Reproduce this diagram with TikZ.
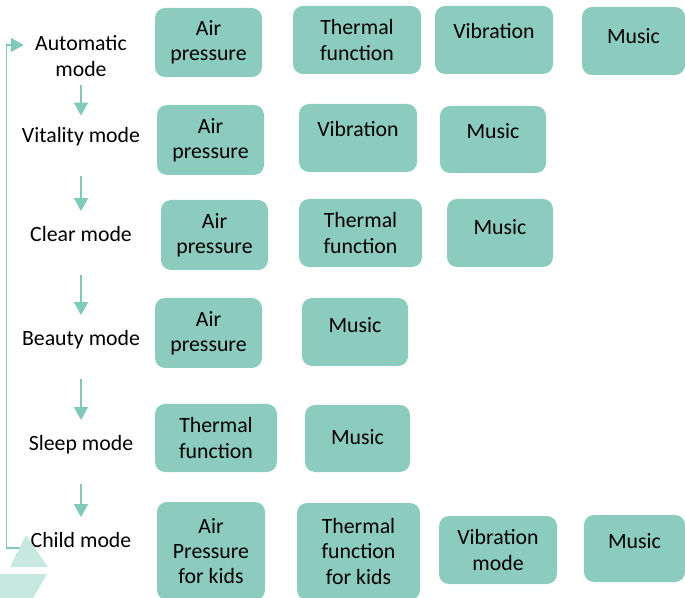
\documentclass[tikz,border=0pt]{standalone}
\usepackage{fontspec}
\setmainfont{Carlito}
\usetikzlibrary{arrows.meta}
\definecolor{boxgreen}{RGB}{139,204,190}
\definecolor{arrowgreen}{RGB}{128,202,186}
\definecolor{lightgreen}{RGB}{198,232,223}
\tikzset{
  func/.style={fill=boxgreen, rounded corners=5pt, align=center, inner sep=0pt,
    font=\fontsize{10.9}{12.6}\selectfont},
  lift/.style={text height=7pt, text depth=#1},
  modename/.style={align=center, inner sep=0pt, font=\fontsize{10.9}{12.6}\selectfont},
  single/.style={text height=7.5pt, text depth=2pt},
  flow/.style={arrowgreen, line width=0.75pt, -{Triangle[width=7pt,length=6.5pt]}}
}
\begin{document}
\begin{tikzpicture}[x=0.5pt, y=-0.5pt]
\useasboundingbox (0,0) rectangle (685,598);

% modes
\node [modename] (auto) at (81,56) {Automatic\\mode};
\node [modename, single] (vital) at (81,137) {Vitality mode};
\node [modename, single] (clear) at (81,236) {Clear mode};
\node [modename, single] (beauty) at (81,340) {Beauty mode};
\node [modename, single] (sleep) at (81,445) {Sleep mode};
\node [modename, single] (child) at (81,542) {Child mode};

% arrows between modes
\draw [flow, shorten <=4pt, shorten >=5.75pt] (auto.south) -- (vital.north);
\draw [flow, shorten <=14.5pt, shorten >=7.5pt] (vital.south) -- (clear.north);
\draw [flow, shorten <=14.5pt, shorten >=7.5pt] (clear.south) -- (beauty.north);
\draw [flow, shorten <=14.5pt, shorten >=7.5pt] (beauty.south) -- (sleep.north);
\draw [flow, shorten <=14.5pt, shorten >=7.5pt] (sleep.south) -- (child.north);
\draw [flow, shorten >=5.5pt] ([yshift=-3pt]child.west) -- ++(-12pt,0)
  |- ([yshift=5.5pt]auto.west);

% decoration
\fill [lightgreen] (26,535) -- (48,567) -- (10,567) -- cycle;
\fill [lightgreen] (0,574) -- (47,574) -- (33,598) -- (0,598) -- cycle;

% automatic mode
\node [func, minimum width=53.5pt, minimum height=34.5pt] (autoair) at (208.5,42.5) {Air\\pressure};
\node [func, minimum width=64pt, minimum height=34pt] (autotherm) at (357,40) {Thermal\\function};
\node [func, lift=8pt, minimum width=59pt, minimum height=34pt] (autovib) at (494,40) {Vibration};
\node [func, lift=4pt, minimum width=51.5pt, minimum height=34pt] (automus) at (633.5,41) {Music};

% vitality mode
\node [func, minimum width=53.5pt, minimum height=35pt] (vitalair) at (210.5,140) {Air\\pressure};
\node [func, lift=8pt, minimum width=59pt, minimum height=34pt] (vitalvib) at (358,138) {Vibration};
\node [func, lift=8pt, minimum width=53pt, minimum height=33.5pt] (vitalmus) at (493,139.5) {Music};

% clear mode
\node [func, minimum width=53.5pt, minimum height=35pt] (clearair) at (214.5,235) {Air\\pressure};
\node [func, minimum width=61.5pt, minimum height=34pt] (cleartherm) at (360.5,233) {Thermal\\function};
\node [func, lift=5pt, minimum width=53pt, minimum height=34pt] (clearmus) at (500,233) {Music};

% beauty mode
\node [func, minimum width=53.5pt, minimum height=35pt] (beautyair) at (208.5,333) {Air\\pressure};
\node [func, lift=6pt, minimum width=53pt, minimum height=34pt] (beautymus) at (355,332) {Music};

% sleep mode
\node [func, minimum width=61pt, minimum height=34pt] (sleeptherm) at (216,438) {Thermal\\function};
\node [func, lift=1pt, minimum width=52.5pt, minimum height=33.5pt] (sleepmus) at (357.5,438.5) {Music};

% child mode
\node [func, minimum width=54pt, minimum height=49pt] (childair) at (211,551) {Air\\Pressure\\for kids};
\node [func, minimum width=61.5pt, minimum height=48.5pt] (childtherm) at (358.5,551.5) {Thermal\\function\\for kids};
\node [func, minimum width=59pt, minimum height=34pt] (childvib) at (498,550) {Vibration\\mode};
\node [func, lift=7pt, minimum width=50.5pt, minimum height=33.5pt] (childmus) at (634.5,548.5) {Music};
\end{tikzpicture}
\end{document}
